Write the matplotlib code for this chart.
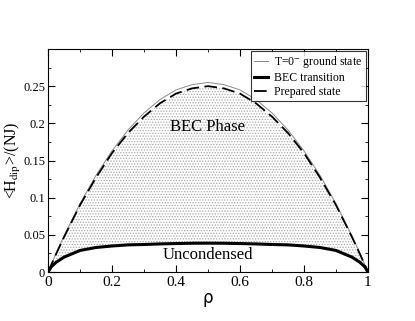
import matplotlib
matplotlib.use('Agg')
import matplotlib.pyplot as plt

plt.rcParams['font.family'] = ['Liberation Serif', 'DejaVu Serif']
plt.rcParams['mathtext.fontset'] = 'stix'
plt.rcParams['hatch.color'] = '#a8a8a8'
plt.rcParams['hatch.linewidth'] = 0.6

# values (symmetric about rho = 0.5)
rho = [0, 0.01, 0.025, 0.05, 0.1, 0.15, 0.2, 0.25, 0.3, 0.35, 0.4, 0.45, 0.5,
       0.55, 0.6, 0.65, 0.7, 0.75, 0.8, 0.85, 0.9, 0.95, 0.975, 0.99, 1]
ground = [0, 0.010, 0.025, 0.0485, 0.092, 0.130, 0.163, 0.191, 0.214, 0.232, 0.245, 0.252, 0.255,
          0.252, 0.245, 0.232, 0.214, 0.191, 0.163, 0.130, 0.092, 0.0485, 0.025, 0.010, 0]
prepared = [0, 0.0095, 0.024, 0.047, 0.090, 0.127, 0.160, 0.187, 0.209, 0.227, 0.240, 0.247, 0.250,
            0.247, 0.240, 0.227, 0.209, 0.187, 0.160, 0.127, 0.090, 0.047, 0.024, 0.0095, 0]
bec = [0, 0.007, 0.013, 0.020, 0.029, 0.033, 0.035, 0.0365, 0.037, 0.0378, 0.0383, 0.0387, 0.0388,
       0.0387, 0.0383, 0.0378, 0.037, 0.0365, 0.035, 0.033, 0.029, 0.020, 0.013, 0.007, 0]

fig = plt.figure(figsize=(4.15, 3.21), dpi=100)
ax = fig.add_axes([0.1157, 0.1526, 0.771, 0.6948])

ax.fill_between(rho, bec, prepared, facecolor='white', edgecolor='#a8a8a8',
                hatch='......', linewidth=0)
ax.plot(rho, ground, color='#8a8a8a', lw=0.7, label='T=0$^{-}$ ground state')
ax.plot(rho, bec, color='black', lw=2.2, label='BEC transition')
ax.plot(rho, prepared, color='black', lw=1.3, dashes=(7, 3), label='Prepared state')

ax.text(0.5, 0.195, 'BEC Phase', ha='center', va='center', fontsize=12)
ax.text(0.5, 0.023, 'Uncondensed', ha='center', va='center', fontsize=12)

ax.set_xlim(0, 1)
ax.set_ylim(0, 0.3)
ax.set_xticks([0, 0.2, 0.4, 0.6, 0.8, 1])
ax.set_xticklabels(['0', '0.2', '0.4', '0.6', '0.8', '1'])
ax.set_xticks([0.1, 0.3, 0.5, 0.7, 0.9], minor=True)
ax.set_yticks([0, 0.05, 0.1, 0.15, 0.2, 0.25])
ax.set_yticklabels(['0', '0.05', '0.1', '0.15', '0.2', '0.25'])
ax.set_yticks([0.025, 0.075, 0.125, 0.175, 0.225, 0.275], minor=True)
ax.tick_params(which='both', direction='in', top=True, right=True, pad=3)
ax.tick_params(axis='x', labelsize=11)
ax.tick_params(axis='y', labelsize=9, pad=2)
ax.tick_params(which='major', length=5)
ax.tick_params(which='minor', length=2.5)
for s in ax.spines.values():
    s.set_linewidth(0.8)

ax.set_xlabel('ρ', fontsize=12, family='DejaVu Sans', labelpad=0)
ax.set_ylabel('<H$_{\\rm dip}$>/(NJ)', fontsize=11.5)
ax.yaxis.set_label_coords(-0.078, 0.5)

leg = ax.legend(loc='upper right', fontsize=8.5, frameon=True, fancybox=False,
                edgecolor='black', borderaxespad=0.15, handlelength=1.2,
                handletextpad=0.5, borderpad=0.3, labelspacing=0.15)
leg.get_frame().set_linewidth(0.8)

fig.savefig('out.png', dpi=100)
